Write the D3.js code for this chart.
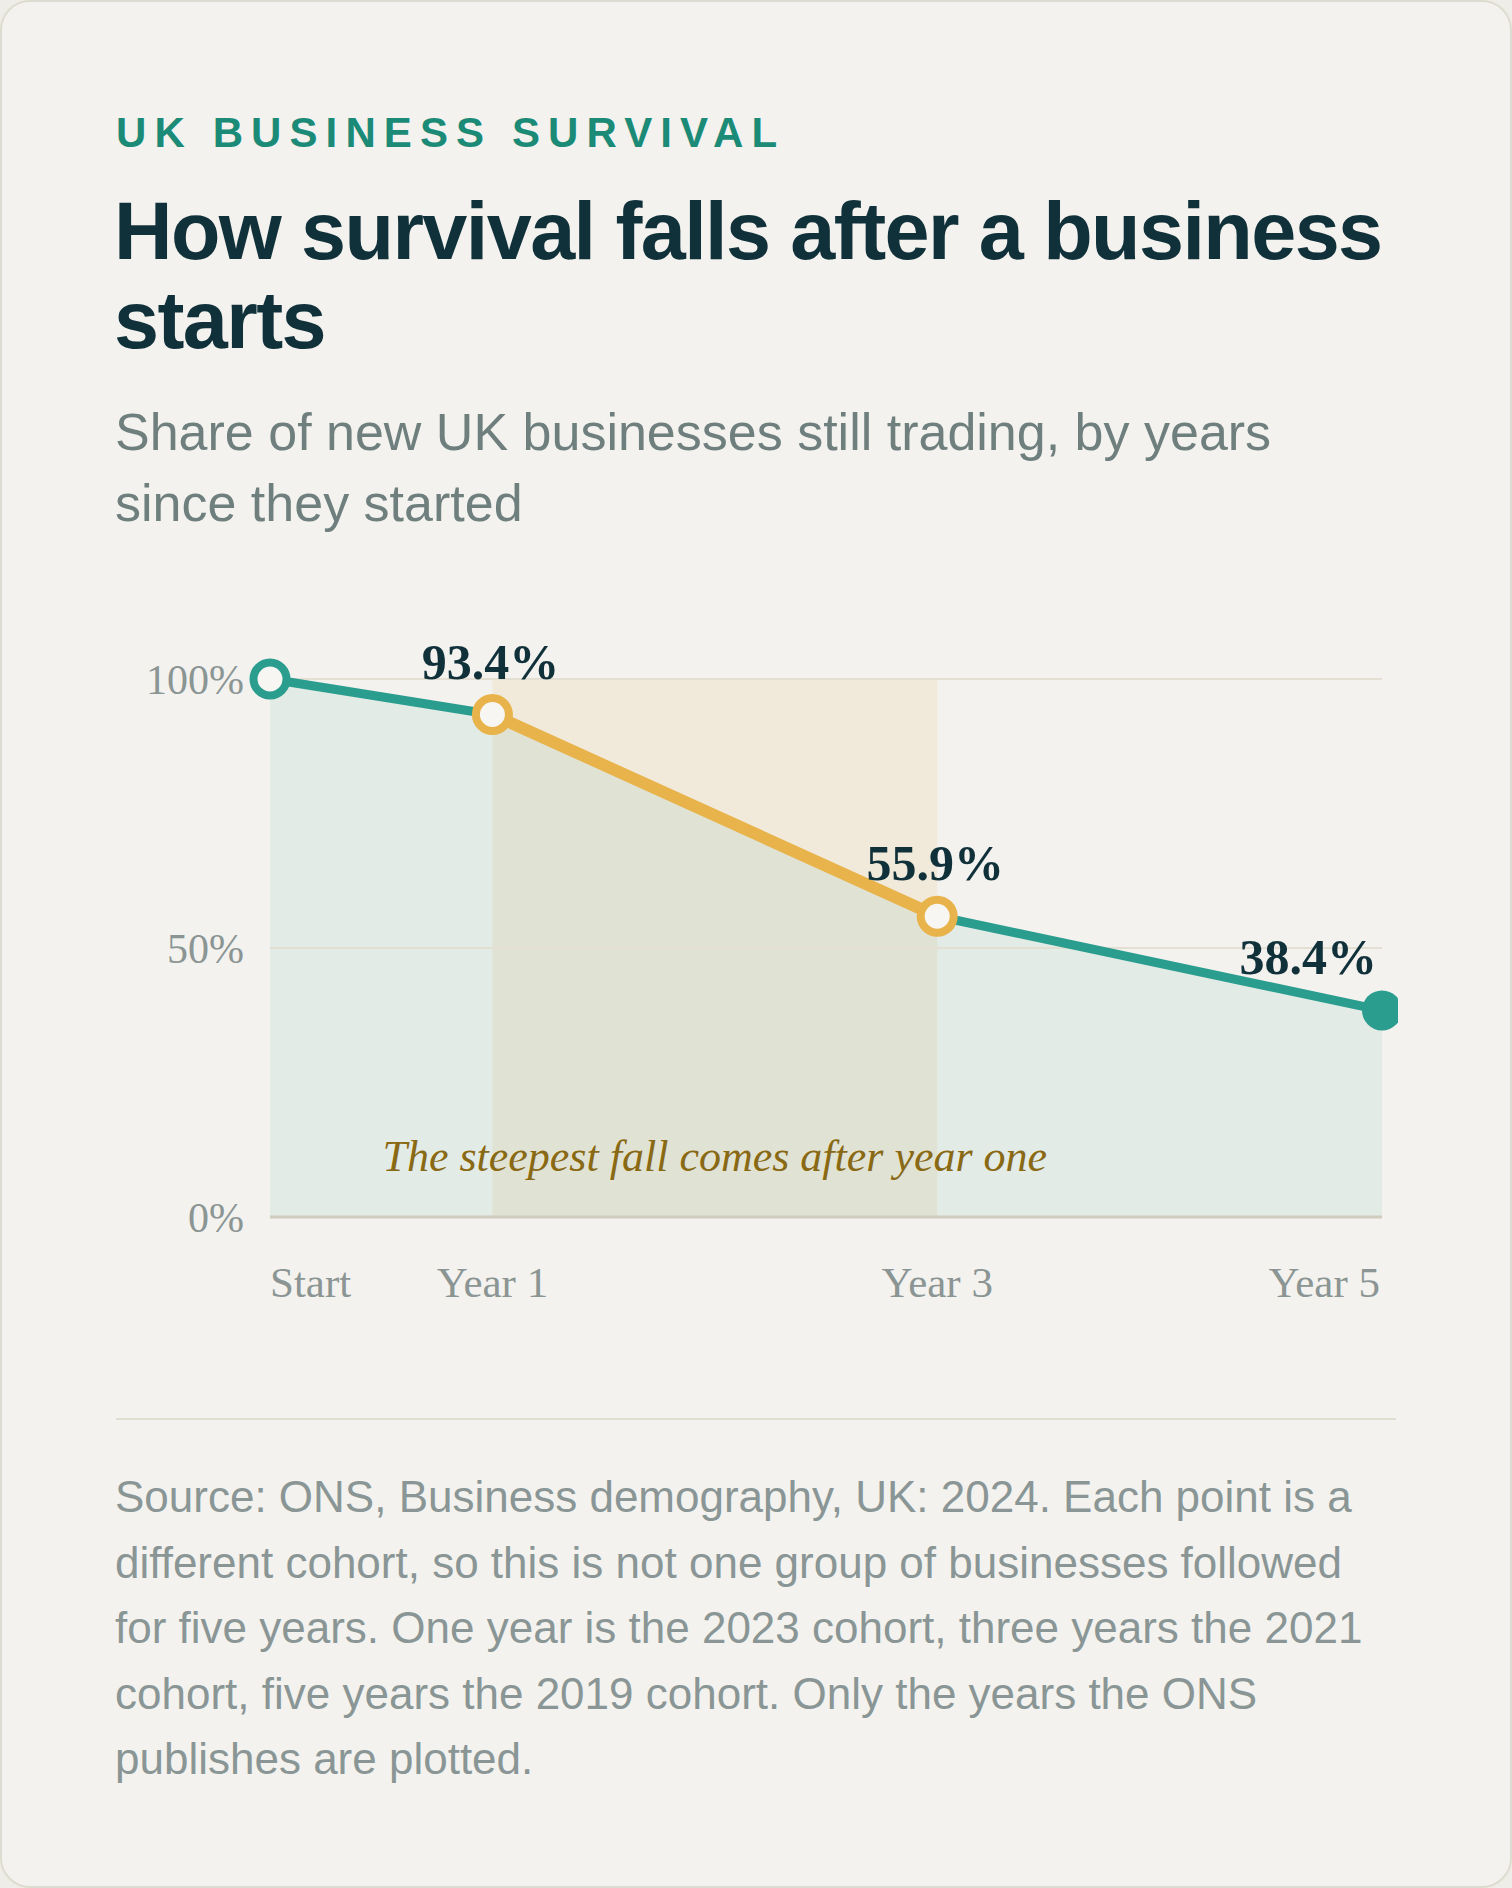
<!DOCTYPE html>
<html>
<head>
<meta charset="utf-8">
<script src="https://cdn.jsdelivr.net/npm/d3@7/dist/d3.min.js"></script>
<style>
  html, body { margin: 0; padding: 0; background: #efede7; }
  #card {
    position: absolute; left: 0; top: 0;
    width: 1508px; height: 1884px;
    background: #f3f2ee;
    border: 2px solid #dedbd0;
    border-radius: 30px;
    overflow: hidden;
  }
  svg { position: absolute; left: -2px; top: -2px; }
</style>
</head>
<body>
<div id="card"></div>
<script>
// ---- data ----
const categories = ["Start", "Year 1", "Year 3", "Year 5"];
const yearsSince = [0, 1, 3, 5];
const survival = [100, 93.4, 55.9, 38.4];
const pointLabels = ["", "93.4%", "55.9%", "38.4%"];
const yTickValues = [0, 50, 100];
const yTickLabels = ["0%", "50%", "100%"];
const highlightRange = [1, 3];
const kicker = "UK BUSINESS SURVIVAL";
const titleLines = ["How survival falls after a business", "starts"];
const subtitleLines = ["Share of new UK businesses still trading, by years", "since they started"];
const annotation = "The steepest fall comes after year one";
const footerLines = [
  "Source: ONS, Business demography, UK: 2024. Each point is a",
  "different cohort, so this is not one group of businesses followed",
  "for five years. One year is the 2023 cohort, three years the 2021",
  "cohort, five years the 2019 cohort. Only the years the ONS",
  "publishes are plotted."
];

// ---- styles ----
const TEAL = "#2a9d8f", ORANGE = "#e8b34b", INK = "#10303a";
const SANS = "'Liberation Sans', Arial, Helvetica, sans-serif";
const SERIF = "'Liberation Serif', 'Times New Roman', serif";

const W = 1512, H = 1888;
const svg = d3.select("#card").append("svg").attr("width", W).attr("height", H);

const data = yearsSince.map((t, i) => ({ t, v: survival[i], label: pointLabels[i], cat: categories[i], i }));

// ---- header ----
svg.append("text").attr("x", 116).attr("y", 147)
  .attr("font-family", SANS).attr("font-weight", 700).attr("font-size", 42)
  .attr("letter-spacing", 8.1).attr("fill", "#1b8a77").text(kicker);

svg.append("g").selectAll("text").data(titleLines).join("text")
  .attr("x", 114).attr("y", (d, i) => 259 + i * 89)
  .attr("font-family", SANS).attr("font-weight", 700).attr("font-size", 81)
  .attr("letter-spacing", -1.6).attr("fill", INK).text(d => d);

svg.append("g").selectAll("text").data(subtitleLines).join("text")
  .attr("x", 115).attr("y", (d, i) => 450 + i * 71)
  .attr("font-family", SANS).attr("font-size", 52)
  .attr("fill", "#6f7f7e").text(d => d);

// ---- chart ----
const x = d3.scaleLinear().domain([0, 5]).range([270, 1382]);
const y = d3.scaleLinear().domain([0, 100]).range([1217, 679]);

svg.append("clipPath").attr("id", "plotclip")
  .append("rect").attr("x", 116).attr("y", 600).attr("width", 1282).attr("height", 700);

const chart = svg.append("g").attr("clip-path", "url(#plotclip)");

// highlight band
chart.append("rect")
  .attr("x", x(highlightRange[0])).attr("width", x(highlightRange[1]) - x(highlightRange[0]))
  .attr("y", y(100)).attr("height", y(0) - y(100))
  .attr("fill", "#e9b44c").attr("fill-opacity", 0.12);

// area
chart.append("path").datum(data)
  .attr("d", d3.area().x(d => x(d.t)).y0(y(0)).y1(d => y(d.v)))
  .attr("fill", TEAL).attr("fill-opacity", 0.085);

// gridlines
chart.append("g").selectAll("line").data(yTickValues).join("line")
  .attr("x1", x(0)).attr("x2", x(5))
  .attr("y1", d => y(d)).attr("y2", d => y(d))
  .attr("stroke", d => d === 0 ? "#cfcbbf" : "#e3dfd3")
  .attr("stroke-width", d => d === 0 ? 3 : 2);

// y tick labels
svg.append("g").selectAll("text").data(yTickValues).join("text")
  .attr("x", 244).attr("y", d => y(d) + 15)
  .attr("text-anchor", "end")
  .attr("font-family", SERIF).attr("font-size", 42).attr("fill", "#8b9594")
  .text((d, i) => yTickLabels[i]);

// x tick labels
const xAnchor = i => i === 0 ? "start" : (i === categories.length - 1 ? "end" : "middle");
svg.append("g").selectAll("text").data(data).join("text")
  .attr("x", d => x(d.t) + (d.i === categories.length - 1 ? -2 : 0)).attr("y", 1297)
  .attr("text-anchor", d => xAnchor(d.i))
  .attr("font-family", SERIF).attr("font-size", 43).attr("fill", "#8b9594")
  .text(d => d.cat);

// annotation
svg.append("text")
  .attr("x", (x(highlightRange[0]) + x(highlightRange[1])) / 2).attr("y", 1171)
  .attr("text-anchor", "middle")
  .attr("font-family", SERIF).attr("font-style", "italic").attr("font-size", 44)
  .attr("fill", "#8a6914").text(annotation);

// line
const line = d3.line().x(d => x(d.t)).y(d => y(d.v));
chart.append("path").datum(data).attr("d", line)
  .attr("fill", "none").attr("stroke", TEAL).attr("stroke-width", 9)
  .attr("stroke-linejoin", "round");
chart.append("path")
  .datum(data.filter(d => d.t >= highlightRange[0] && d.t <= highlightRange[1]))
  .attr("d", line)
  .attr("fill", "none").attr("stroke", ORANGE).attr("stroke-width", 12)
  .attr("stroke-linecap", "round").attr("stroke-linejoin", "round");

// markers
const last = data.length - 1;
chart.append("g").selectAll("circle").data(data).join("circle")
  .attr("cx", d => x(d.t)).attr("cy", d => y(d.v))
  .attr("r", d => d.i === last ? 20 : 16.5)
  .attr("fill", d => d.i === last ? TEAL : "#f7f6f2")
  .attr("stroke", d => d.i === last ? "none" : (d.t >= highlightRange[0] && d.t <= highlightRange[1] ? ORANGE : TEAL))
  .attr("stroke-width", 8);

// value labels
svg.append("g").selectAll("text").data(data.filter(d => d.label)).join("text")
  .attr("x", d => d.i === last ? x(d.t) - 5 : x(d.t) - 2)
  .attr("y", d => y(d.v) - 36)
  .attr("text-anchor", d => d.i === last ? "end" : "middle")
  .attr("font-family", SERIF).attr("font-weight", 700).attr("font-size", 50)
  .attr("fill", INK).text(d => d.label);

// ---- footer ----
svg.append("line").attr("x1", 116).attr("x2", 1396).attr("y1", 1419).attr("y2", 1419)
  .attr("stroke", "#e0ddd1").attr("stroke-width", 2);

svg.append("g").selectAll("text").data(footerLines).join("text")
  .attr("x", 115).attr("y", (d, i) => 1512 + i * 65.5)
  .attr("font-family", SANS).attr("font-size", 44)
  .attr("fill", "#8a9695").text(d => d);
</script>
</body>
</html>
